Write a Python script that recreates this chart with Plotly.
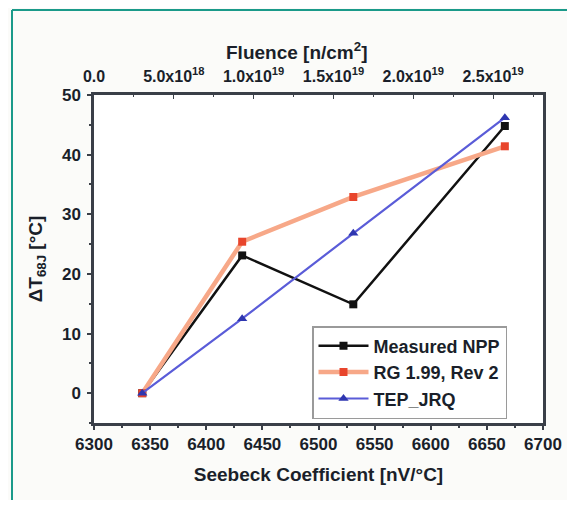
import plotly.graph_objects as go

# Data
seebeck = [6343, 6432, 6531, 6666]
measured_npp = [0.0, 23.1, 14.9, 44.8]
rg_199 = [0.0, 25.4, 32.9, 41.4]
tep_jrq = [0.0, 12.5, 26.8, 46.2]

y_ticks = [0, 10, 20, 30, 40, 50]
x_ticks = [6300, 6350, 6400, 6450, 6500, 6550, 6600, 6650, 6700]
fluence_ticks = [0.0, 5.0e18, 1.0e19, 1.5e19, 2.0e19, 2.5e19]
fluence_labels = ["0.0", "5.0x10<sup>18</sup>", "1.0x10<sup>19</sup>",
                  "1.5x10<sup>19</sup>", "2.0x10<sup>19</sup>", "2.5x10<sup>19</sup>"]

FONT = "Liberation Sans, Arial, sans-serif"
AX = "#3a3f48"
TXT = "#1a1f2a"
TEAL = "#1a9a8a"

# page geometry (browser body has an 8px margin)
BODY = 8
FIG_W, FIG_H = 575 - 2 * BODY, 508 - 2 * BODY
PX0, PX1, PY0, PY1 = 94, 543, 95, 423   # plot area in page pixels
PW, PH = PX1 - PX0, PY1 - PY0


def px(x):
    return (x - PX0) / PW


def py(y):
    return (PY1 - y) / PH


fig = go.Figure()
fig.add_trace(go.Scatter(x=seebeck, y=measured_npp, name="Measured NPP",
                         mode="lines+markers",
                         line=dict(color="#111111", width=2.5),
                         marker=dict(symbol="square", size=8, color="#111111")))
fig.add_trace(go.Scatter(x=seebeck, y=rg_199, name="RG 1.99, Rev 2",
                         mode="lines+markers",
                         line=dict(color="#f7a888", width=4.5),
                         marker=dict(symbol="square", size=8, color="#e8452c")))
fig.add_trace(go.Scatter(x=seebeck, y=tep_jrq, name="TEP_JRQ",
                         mode="lines+markers",
                         line=dict(color="#5a5cd8", width=2.2),
                         marker=dict(symbol="triangle-up", size=9, color="#2e36b0")))
# invisible trace to carry the top (fluence) axis
fig.add_trace(go.Scatter(x=[fluence_ticks[0], fluence_ticks[-1]], y=[0, 0], xaxis="x2",
                         mode="markers", marker=dict(opacity=0), showlegend=False,
                         hoverinfo="skip"))

tickfont = dict(family=FONT, size=17, color=TXT, weight="bold")
titlefont = dict(family=FONT, size=19, color=TXT, weight="bold")
fig.update_layout(
    width=FIG_W, height=FIG_H,
    margin=dict(l=PX0 - BODY, r=FIG_W - (PX1 - BODY), t=PY0 - BODY, b=FIG_H - (PY1 - BODY),
                autoexpand=False),
    paper_bgcolor="#fbfbf9",
    plot_bgcolor="#ffffff",
    font=dict(family=FONT, color=TXT),
    xaxis=dict(range=[6300, 6700], tickvals=x_ticks,
               tickfont=tickfont, showgrid=False, zeroline=False, automargin=False,
               showline=True, linecolor=AX, linewidth=2.5, mirror=True,
               ticks="outside", ticklen=4, tickcolor=AX, tickwidth=1.5,
               minor=dict(ticks="outside", ticklen=2, dtick=25, tickcolor=AX),
               title=dict(text="Seebeck Coefficient [nV/°C]", font=titlefont, standoff=15)),
    xaxis2=dict(overlaying="x", side="top", range=[0, 2.8125e19],
                tickvals=fluence_ticks, ticktext=fluence_labels, automargin=False,
                tickfont=dict(family=FONT, size=16, color=TXT, weight="bold"),
                showgrid=False, zeroline=False, ticklabelstandoff=9,
                ticks="inside", ticklen=4, tickcolor=AX, showline=False,
                minor=dict(ticks="inside", ticklen=2, dtick=2.5e18, tickcolor=AX)),
    yaxis=dict(range=[-5, 50], tickvals=y_ticks, automargin=False,
               tickfont=tickfont, showgrid=False, zeroline=False,
               showline=True, linecolor=AX, linewidth=2.5, mirror=True,
               ticks="outside", ticklen=4, tickcolor=AX, tickwidth=1.5,
               ticklabelstandoff=3,
               minor=dict(ticks="outside", ticklen=2, dtick=5, tickcolor=AX),
               title=dict(text="ΔT<sub>68J</sub> [°C]", font=titlefont, standoff=15)),
    legend=dict(x=px(312), y=py(326), xanchor="left", yanchor="top",
                bgcolor="#ffffff", bordercolor="#9a9a9a", borderwidth=1.5,
                font=dict(family=FONT, size=18, color=TXT, weight="bold"),
                tracegroupgap=0, itemwidth=50),
    showlegend=True,
    annotations=[dict(text="Fluence [n/cm<sup>2</sup>]", xref="paper", yref="paper",
                      x=px(296), y=py(51), xanchor="center", yanchor="middle",
                      showarrow=False, font=titlefont)],
    shapes=[
        dict(type="line", xref="paper", yref="paper",
             x0=px(12), x1=px(620), y0=py(10), y1=py(10),
             line=dict(color=TEAL, width=2), layer="below"),
        dict(type="line", xref="paper", yref="paper",
             x0=px(12), x1=px(12), y0=py(10), y1=py(560),
             line=dict(color=TEAL, width=2), layer="below"),
    ],
)

fig.write_html("out.html")
